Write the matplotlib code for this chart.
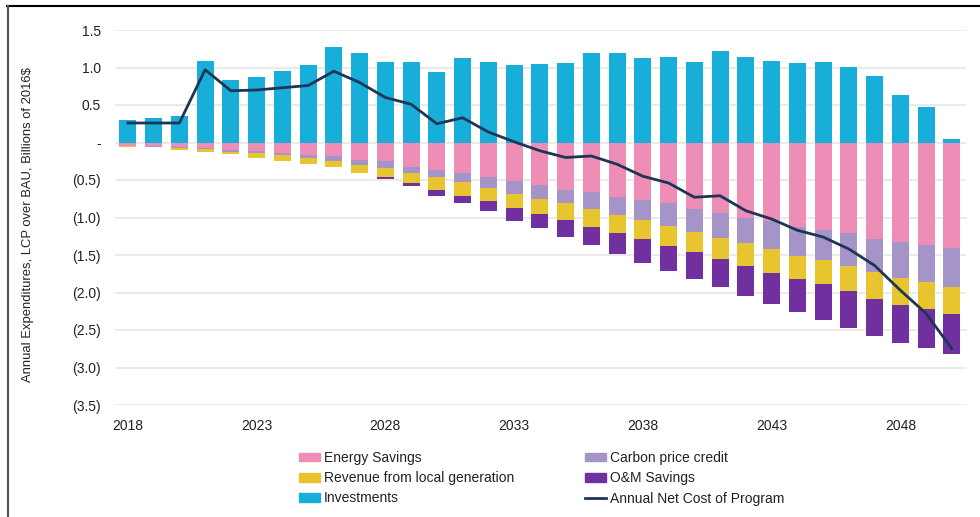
import numpy as np
import matplotlib
matplotlib.use('Agg')
import matplotlib.pyplot as plt
from matplotlib.lines import Line2D
from matplotlib.patches import Patch

plt.rcParams['font.family'] = ['Liberation Sans', 'DejaVu Sans']

# 年份与各分项（十亿 2016$）
years = np.arange(2018, 2051)
investments = [0.30, 0.33, 0.35, 1.09, 0.83, 0.88, 0.95, 1.03, 1.28, 1.20, 1.08,
               1.08, 0.94, 1.12, 1.07, 1.03, 1.05, 1.06, 1.19, 1.20, 1.12, 1.14,
               1.08, 1.22, 1.14, 1.09, 1.06, 1.07, 1.01, 0.89, 0.64, 0.47, 0.05]
energy_savings = [0.04, 0.05, 0.06, 0.07, 0.10, 0.11, 0.14, 0.16, 0.18, 0.23, 0.25,
                  0.32, 0.36, 0.40, 0.46, 0.51, 0.56, 0.63, 0.66, 0.73, 0.77, 0.81,
                  0.88, 0.94, 1.00, 1.05, 1.12, 1.16, 1.21, 1.28, 1.32, 1.37, 1.41]
carbon_credit = [0.005, 0.005, 0.01, 0.02, 0.02, 0.03, 0.03, 0.04, 0.06, 0.07, 0.09,
                 0.09, 0.10, 0.13, 0.14, 0.17, 0.19, 0.18, 0.22, 0.23, 0.26, 0.30,
                 0.31, 0.33, 0.34, 0.37, 0.39, 0.41, 0.43, 0.45, 0.48, 0.49, 0.52]
local_revenue = [0.01, 0.01, 0.03, 0.03, 0.03, 0.06, 0.07, 0.09, 0.09, 0.10, 0.12,
                 0.13, 0.17, 0.18, 0.18, 0.19, 0.20, 0.22, 0.24, 0.24, 0.26, 0.27,
                 0.27, 0.28, 0.30, 0.32, 0.31, 0.31, 0.34, 0.35, 0.36, 0.36, 0.36]
om_savings = [0.0, 0.0, 0.0, 0.0, 0.0, 0.0, 0.0, 0.0, 0.0, 0.0, 0.03,
              0.04, 0.08, 0.09, 0.13, 0.17, 0.19, 0.23, 0.25, 0.29, 0.31, 0.33,
              0.36, 0.38, 0.40, 0.41, 0.44, 0.48, 0.49, 0.50, 0.51, 0.52, 0.53]
net_cost = [0.26, 0.26, 0.26, 0.97, 0.69, 0.70, 0.73, 0.76, 0.95, 0.80, 0.60,
            0.51, 0.25, 0.33, 0.14, 0.01, -0.11, -0.20, -0.18, -0.29, -0.45, -0.54,
            -0.73, -0.71, -0.91, -1.02, -1.17, -1.26, -1.42, -1.64, -1.97, -2.28, -2.75]

yticks = [1.5, 1.0, 0.5, 0.0, -0.5, -1.0, -1.5, -2.0, -2.5, -3.0, -3.5]
ytick_labels = ['1.5', '1.0', '0.5', '-', '(0.5)', '(1.0)', '(1.5)', '(2.0)',
                '(2.5)', '(3.0)', '(3.5)']
xticks = [2018, 2023, 2028, 2033, 2038, 2043, 2048]

c_blue = '#17AFDA'
c_pink = '#EE8DB6'
c_lav = '#A594C7'
c_yel = '#E8C52F'
c_pur = '#7030A0'
c_line = '#1E3556'

fig = plt.figure(figsize=(9.8, 5.17), dpi=100)
ax = fig.add_axes([115/980, 1 - 405/517, (966-115)/980, (405-30)/517])

w = 0.66
ax.bar(years, investments, width=w, color=c_blue, zorder=2)
b1 = -np.array(energy_savings)
b2 = b1 - np.array(carbon_credit)
b3 = b2 - np.array(local_revenue)
ax.bar(years, b1, width=w, color=c_pink, zorder=2)
ax.bar(years, -np.array(carbon_credit), bottom=b1, width=w, color=c_lav, zorder=2)
ax.bar(years, -np.array(local_revenue), bottom=b2, width=w, color=c_yel, zorder=2)
ax.bar(years, -np.array(om_savings), bottom=b3, width=w, color=c_pur, zorder=2)
ax.plot(years, net_cost, color=c_line, lw=2, zorder=3)

ax.set_xlim(2017.5, 2050.55)
ax.set_ylim(-3.5, 1.5)
ax.set_yticks(yticks)
ax.set_yticklabels(ytick_labels)
ax.set_xticks(xticks)
ax.tick_params(axis='both', length=0, labelsize=10, colors='#222222')
ax.tick_params(axis='y', pad=10)
ax.tick_params(axis='x', pad=10)
ax.grid(axis='y', color='#e6e6e6', lw=1.2, zorder=0)
ax.set_axisbelow(True)
for s in ax.spines.values():
    s.set_visible(False)

fig.text(28/980, 1 - 225/517, 'Annual Expenditures, LCP over BAU, Billions of 2016$',
         rotation=90, ha='center', va='center', fontsize=9.4, color='#222222')

handles = [Patch(color=c_pink, label='Energy Savings'),
           Patch(color=c_yel, label='Revenue from local generation'),
           Patch(color=c_blue, label='Investments'),
           Patch(color=c_lav, label='Carbon price credit'),
           Patch(color=c_pur, label='O&M Savings'),
           Line2D([0], [0], color=c_line, lw=2, label='Annual Net Cost of Program')]
leg = fig.legend(handles=handles, ncol=2, loc='upper left',
                 bbox_to_anchor=(299/980, 1 - 451/517), frameon=False,
                 fontsize=10, handlelength=1.5, handleheight=0.55,
                 handletextpad=0.3, columnspacing=5.1, labelspacing=0.45,
                 borderaxespad=0, borderpad=0)
for t in leg.get_texts():
    t.set_color('#222222')

# 外框
fig.add_artist(Line2D([7/980, 1], [1 - 6/517, 1 - 6/517], color='black', lw=1.5,
                      transform=fig.transFigure))
fig.add_artist(Line2D([8/980, 8/980], [0, 1 - 6/517], color='#555555', lw=1.6,
                      transform=fig.transFigure))

fig.savefig('out.png', dpi=100)
